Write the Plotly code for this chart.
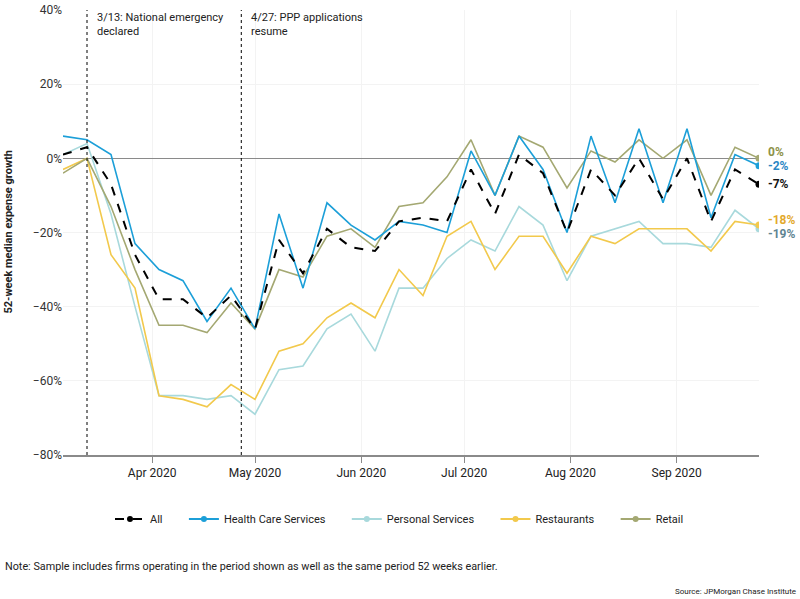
import plotly.graph_objects as go

dates = ["2020-03-06", "2020-03-13", "2020-03-20", "2020-03-27", "2020-04-03", "2020-04-10",
         "2020-04-17", "2020-04-24", "2020-05-01", "2020-05-08", "2020-05-15", "2020-05-22",
         "2020-05-29", "2020-06-05", "2020-06-12", "2020-06-19", "2020-06-26", "2020-07-03",
         "2020-07-10", "2020-07-17", "2020-07-24", "2020-07-31", "2020-08-07", "2020-08-14",
         "2020-08-21", "2020-08-28", "2020-09-04", "2020-09-11", "2020-09-18", "2020-09-25"]

all_firms = [1, 3, -7, -26, -38, -38, -43, -37, -46, -22, -31, -19, -24, -25, -17, -16, -17, -3, -15, 1,
             -4, -20, -3, -10, 0, -11, 0, -17, -3, -7]
health = [6, 5, 1, -23, -30, -33, -44, -35, -46, -15, -35, -12, -18, -22, -17, -18, -20, 2, -10, 6,
          -3, -20, 6, -12, 8, -12, 8, -16, 1, -2]
personal = [1, 4, -15, -40, -64, -64, -65, -64, -69, -57, -56, -46, -42, -52, -35, -35, -27, -22, -25, -13,
            -18, -33, -21, -19, -17, -23, -23, -24, -14, -19]
restaurants = [-3, 0, -26, -35, -64, -65, -67, -61, -65, -52, -50, -43, -39, -43, -30, -37, -21, -17, -30, -21,
               -21, -31, -21, -23, -19, -19, -19, -25, -17, -18]
retail = [-4, 0, -13, -30, -45, -45, -47, -39, -46, -30, -32, -21, -19, -24, -13, -12, -5, 5, -10, 6,
          3, -8, 2, -1, 5, 0, 5, -10, 3, 0]

series_names = ["All", "Health Care Services", "Personal Services", "Restaurants", "Retail"]
series_values = [all_firms, health, personal, restaurants, retail]
line_colors = ["#000000", "#1c9fd8", "#a8d9dc", "#f2c94c", "#a4a872"]
label_colors = ["#111111", "#2a86c4", "#5f8592", "#e3a92c", "#8e9248"]
label_yshift = [0, 0, -5, 5, 6]
draw_order = [2, 3, 4, 1, 0]

events = ["2020-03-13", "2020-04-27"]
event_texts = ["3/13: National emergency<br>declared", "4/27: PPP applications<br>resume"]

narrow = "Liberation Sans Narrow, Roboto, sans-serif"
regular = "Roboto, Liberation Sans, Arial, sans-serif"
PAD = "\u00a0" * 6

fig = go.Figure()

# legend entries
for name, col in zip(series_names, line_colors):
    fig.add_trace(go.Scatter(
        x=[None], y=[None], name=name + PAD, mode="lines+markers",
        line=dict(color=col, width=2, dash="dash" if name == "All" else "solid"),
        marker=dict(color=col, size=6)))

for k in draw_order:
    name, vals, col = series_names[k], series_values[k], line_colors[k]
    fig.add_trace(go.Scatter(
        x=dates, y=vals, mode="lines", showlegend=False, name=name,
        line=dict(color=col, width=2 if name == "All" else 1.6,
                  dash="dash" if name == "All" else "solid")))

for k in draw_order:
    vals, col = series_values[k], line_colors[k]
    fig.add_trace(go.Scatter(
        x=[dates[-1]], y=[vals[-1]], mode="markers", showlegend=False,
        marker=dict(color=col, size=7)))

for k in range(len(series_names)):
    vals = series_values[k]
    fig.add_annotation(
        x=dates[-1], y=vals[-1], text="<b>%d%%</b>" % vals[-1], showarrow=False,
        xanchor="left", yanchor="middle", xshift=7, yshift=label_yshift[k],
        font=dict(family=regular, size=12, color=label_colors[k]))

for d, t in zip(events, event_texts):
    fig.add_shape(type="line", x0=d, x1=d, xref="x", yref="paper", y0=0, y1=1,
                  line=dict(color="#000000", width=1, dash="dot"))
    fig.add_annotation(x=d, y=1, xref="x", yref="paper", text=t, showarrow=False,
                       xanchor="left", yanchor="top", align="left", xshift=8, yshift=1,
                       font=dict(family=regular, size=11, color="#222222"))

fig.add_annotation(x=0, y=0.5, xref="paper", yref="paper", xshift=-55,
                   text="<b>52-week median expense growth</b>", textangle=-90,
                   showarrow=False, xanchor="center", yanchor="middle",
                   font=dict(family=regular, size=11, color="#222222"))

fig.add_annotation(x=-60 / 696, y=(455 - 566) / 445, xref="paper", yref="paper",
                   text="Note: Sample includes firms operating in the period shown as well as the same period 52 weeks earlier.",
                   showarrow=False, xanchor="left", yanchor="middle",
                   font=dict(family=narrow, size=10.8, color="#222222"))
fig.add_annotation(x=(798 - 63) / 696, y=(455 - 591) / 445, xref="paper", yref="paper",
                   text="Source: JPMorgan Chase Institute", showarrow=False,
                   xanchor="right", yanchor="middle",
                   font=dict(family=narrow, size=8, color="#222222"))

fig.update_layout(
    width=800, height=599,
    margin=dict(l=63, r=41, t=10, b=144, autoexpand=False),
    plot_bgcolor="white", paper_bgcolor="white",
    showlegend=True,
    legend=dict(orientation="h", x=(110 - 63) / 696, xanchor="left", y=(455 - 519) / 445, yanchor="middle",
                font=dict(family=narrow, size=11, color="#222222"), itemwidth=30,
                traceorder="normal"),
    xaxis=dict(range=[dates[0], dates[-1]], type="date", dtick="M1", tickformat="%b %Y",
               tick0="2020-04-01", showgrid=True, gridcolor="#f3f3f3", gridwidth=1,
               showline=True, linecolor="#8a8a8a", linewidth=2, ticks="outside",
               ticklen=6, tickcolor="#8a8a8a", zeroline=False, automargin=False,
               tickfont=dict(family=narrow, size=12, color="#222222")),
    yaxis=dict(range=[-80, 40], dtick=20, ticksuffix="%", showgrid=True, gridcolor="#f3f3f3",
               zeroline=True, zerolinecolor="#8a8a8a", zerolinewidth=1.2, showline=False,
               automargin=False,
               tickfont=dict(family=regular, size=12, color="#333333")),
)

fig.write_html("out.html", config={"displayModeBar": False},
               post_script="document.body.style.margin='0';")
